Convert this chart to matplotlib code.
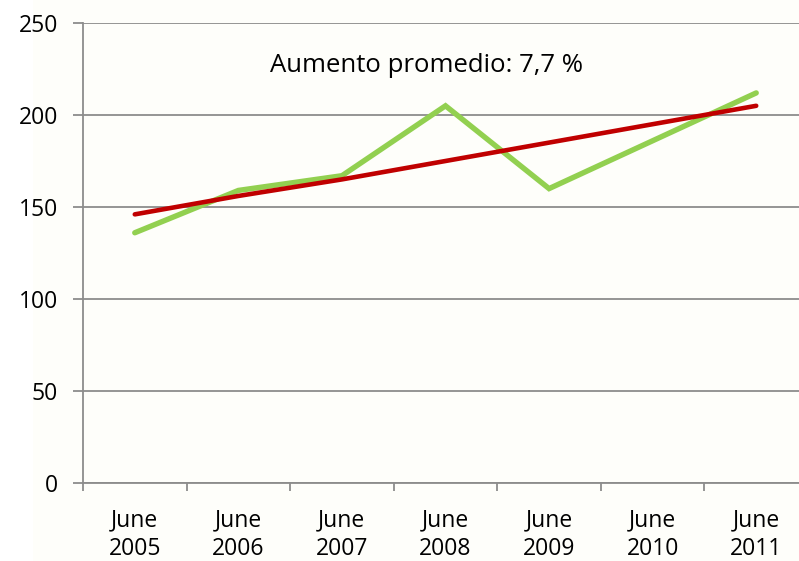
import matplotlib
matplotlib.use('Agg')
import matplotlib.pyplot as plt
from matplotlib.patches import Rectangle

# data
years = ["June\n2005", "June\n2006", "June\n2007", "June\n2008",
         "June\n2009", "June\n2010", "June\n2011"]
values = [136, 159, 167, 205, 160, 186, 212]
trend = [146, 156, 165, 175, 185, 195, 205]
note = "Aumento promedio: 7,7 %"

plt.rcParams['font.family'] = ['Open Sans', 'DejaVu Sans']

W, H = 799, 561
fig = plt.figure(figsize=(W / 100, H / 100), dpi=100)
fig.patch.set_facecolor('#fefefa')
# white strip on the left edge
fig.patches.append(Rectangle((0, 0), 33 / W, 1, transform=fig.transFigure,
                             facecolor='white', edgecolor='none', zorder=-1))

ax = fig.add_axes([83 / W, 1 - 483 / H, 725 / W, 460 / H])
ax.set_facecolor('#fefefa')

x = list(range(len(years)))
ax.plot(x, values, color='#92d050', linewidth=3.9, solid_capstyle='round',
        solid_joinstyle='miter', zorder=3)
ax.plot(x, trend, color='#c00000', linewidth=3.3, solid_capstyle='round', zorder=4)

ax.set_xlim(-0.5, len(years) - 0.5)
ax.set_ylim(0, 250)
ax.set_yticks(range(0, 251, 50))
ax.yaxis.grid(True, color='#8c8c8c', linewidth=1.3)
ax.set_axisbelow(True)

# category boundaries as major ticks, labels at centres
ax.set_xticks([i - 0.5 for i in range(len(years) + 1)])
ax.set_xticklabels([])
ax.set_xticks(x, minor=True)
ax.set_xticklabels(years, minor=True, fontsize=16.5, linespacing=1.3)
ax.tick_params(axis='x', which='major', length=6, width=1.3, color='#8c8c8c', direction='out')
ax.tick_params(axis='x', which='minor', length=0, pad=18)
ax.tick_params(axis='y', length=7, width=1.3, color='#8c8c8c', pad=11, labelsize=16.5)

for side in ['top', 'right']:
    ax.spines[side].set_visible(False)
for side in ['left', 'bottom']:
    ax.spines[side].set_color('#8c8c8c')
    ax.spines[side].set_linewidth(1.3)

ax.text(427 / W, 1 - 66 / H, note, transform=fig.transFigure,
        ha='center', va='center', fontsize=18.5)

plt.savefig("out.png", dpi=100, facecolor=fig.get_facecolor())
plt.close()
